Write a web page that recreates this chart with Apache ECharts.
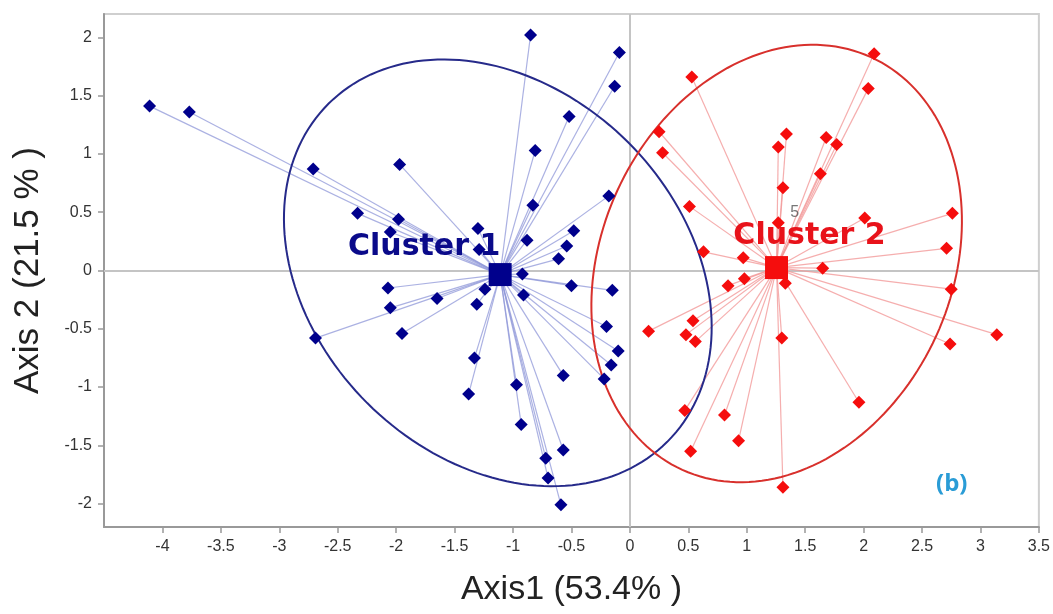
<!DOCTYPE html>
<html><head><meta charset="utf-8">
<script src="https://cdn.jsdelivr.net/npm/echarts@6/dist/echarts.min.js"></script>
<style>html,body{margin:0;padding:0;background:#fff}#c{width:1053px;height:614px}</style>
</head><body><div id="c"></div>
<script>
const xTicks = [-4,-3.5,-3,-2.5,-2,-1.5,-1,-0.5,0,0.5,1,1.5,2,2.5,3,3.5];
const yTicks = [-2,-1.5,-1,-0.5,0,0.5,1,1.5,2];
const xTitle = 'Axis1 (53.4% )';
const yTitle = 'Axis 2 (21.5 % )';
const clusterNames = ['Cluster 1','Cluster 2'];
const panelTag = '(b)';
const pointTag = '5';
const pointTagPos = [1.41, 0.50];

const cluster1Points = [
 [-4.11,1.41],[-3.77,1.36],[-2.71,0.87],[-2.33,0.49],[-2.69,-0.58],
 [-0.85,2.02],[-0.09,1.87],[-0.13,1.58],[-0.52,1.32],[-0.81,1.03],
 [-1.97,0.91],[-0.83,0.56],[-0.18,0.64],[-1.98,0.44],[-2.05,0.33],
 [-1.30,0.36],[-1.29,0.18],[-0.88,0.26],[-0.48,0.34],[-0.54,0.21],
 [-0.61,0.10],[-0.92,-0.03],[-2.07,-0.15],[-2.05,-0.32],[-1.65,-0.24],
 [-1.24,-0.16],[-1.31,-0.29],[-0.91,-0.21],[-0.50,-0.13],[-0.15,-0.17],
 [-1.95,-0.54],[-1.33,-0.75],[-1.38,-1.06],[-0.97,-0.98],[-0.93,-1.32],
 [-0.57,-0.90],[-0.20,-0.48],[-0.10,-0.69],[-0.16,-0.81],[-0.22,-0.93],
 [-0.57,-1.54],[-0.72,-1.61],[-0.70,-1.78],[-0.59,-2.01]
];
const cluster2Points = [
 [0.53,1.66],[0.25,1.19],[0.28,1.01],[1.34,1.17],[1.27,1.06],
 [1.68,1.14],[1.77,1.08],[1.63,0.83],[1.31,0.71],[0.51,0.55],
 [1.27,0.41],[0.63,0.16],[0.97,0.11],[2.09,1.86],[2.04,1.56],
 [2.01,0.45],[2.76,0.49],[2.71,0.19],[1.65,0.02],[2.75,-0.16],
 [3.14,-0.55],[2.74,-0.63],[1.96,-1.13],[0.98,-0.07],[0.84,-0.13],
 [1.33,-0.11],[0.54,-0.43],[0.16,-0.52],[0.48,-0.55],[0.56,-0.61],
 [1.30,-0.58],[0.47,-1.20],[0.81,-1.24],[0.93,-1.46],[0.52,-1.55],
 [1.31,-1.86]
];
const cluster1Centroid = [-1.11,-0.035];
const cluster2Centroid = [1.255,0.025];
// ellipse: centre x, centre y, semi-major, semi-minor, angle (deg)
const cluster1Ellipse = [-1.13,-0.02,2.05,1.58,-45];
const cluster2Ellipse = [1.256,0.06,1.945,1.50,65.5];

const BLUE='#00008c', RED='#f50d0d';

function ellipseItem(color){
  return function(params, api){
    const cx=api.value(0), cy=api.value(1), a=api.value(2), b=api.value(3), ang=api.value(4)*Math.PI/180;
    const pts=[];
    for(let i=0;i<=180;i++){
      const t=i/180*2*Math.PI, dx=a*Math.cos(t), dy=b*Math.sin(t);
      pts.push(api.coord([cx+dx*Math.cos(ang)-dy*Math.sin(ang), cy+dx*Math.sin(ang)+dy*Math.cos(ang)]));
    }
    return {type:'polyline', shape:{points:pts}, style:{stroke:color, lineWidth:2, fill:null}};
  };
}

const chart = echarts.init(document.getElementById('c'));
chart.setOption({
  animation:false,
  grid:{left:104,right:14,top:14,bottom:87,show:true,borderColor:'#cfcfcf',borderWidth:2},
  xAxis:{type:'value',min:-4.5,max:3.5,
    axisLine:{show:true,onZero:false,lineStyle:{color:'#999',width:2}},
    axisTick:{show:true,customValues:xTicks,length:6,lineStyle:{color:'#999',width:1.5}},
    axisLabel:{customValues:xTicks,fontFamily:'Liberation Sans',fontSize:16,color:'#333',margin:12},
    splitLine:{show:false},
    name:xTitle,nameLocation:'middle',nameGap:46,
    nameTextStyle:{fontFamily:'Liberation Sans',fontSize:34,color:'#222'}},
  yAxis:{type:'value',min:-2.2,max:2.2,
    axisLine:{show:true,onZero:false,lineStyle:{color:'#999',width:2}},
    axisTick:{show:true,customValues:yTicks,length:6,lineStyle:{color:'#999',width:1.5}},
    axisLabel:{customValues:yTicks,fontFamily:'Liberation Sans',fontSize:16,color:'#333',margin:12},
    splitLine:{show:false},
    name:yTitle,nameLocation:'middle',nameGap:58,
    nameTextStyle:{fontFamily:'Liberation Sans',fontSize:35,color:'#222'}},
  graphic:[{type:'text',left:936,top:472,z:100,style:{text:panelTag,font:'bold 24px "Open Sans", sans-serif',fill:'#2a9cd6'}}],
  series:[
    {type:'lines',coordinateSystem:'cartesian2d',silent:true,z:2,
     data:cluster1Points.map(p=>({coords:[p,cluster1Centroid]})),
     lineStyle:{color:'#8f97d8',width:1.2,opacity:0.75},
     markLine:{silent:true,symbol:'none',label:{show:false},lineStyle:{color:'#c4c4c4',width:2,type:'solid'},
       data:[{xAxis:0},{yAxis:0}],z:1}},
    {type:'lines',coordinateSystem:'cartesian2d',silent:true,z:2,
     data:cluster2Points.map(p=>({coords:[p,cluster2Centroid]})),
     lineStyle:{color:'#f29a9a',width:1.2,opacity:0.8}},
    {type:'custom',renderItem:ellipseItem('#262a8a'),data:[cluster1Ellipse],encode:{x:0,y:1},z:3,silent:true},
    {type:'custom',renderItem:ellipseItem('#d8302c'),data:[cluster2Ellipse],encode:{x:0,y:1},z:3,silent:true},
    {type:'scatter',data:cluster1Points,symbol:'diamond',symbolSize:13,itemStyle:{color:BLUE,opacity:1},z:5},
    {type:'scatter',data:cluster2Points,symbol:'diamond',symbolSize:13,itemStyle:{color:RED,opacity:1},z:5},
    {type:'scatter',data:[cluster1Centroid],symbol:'rect',symbolSize:23,itemStyle:{color:BLUE,opacity:1},z:6,
     label:{show:true,position:'inside',formatter:clusterNames[0],offset:[-76,-27],
       fontFamily:'DejaVu Sans',fontWeight:'bold',fontSize:30,color:'#0a0a8a',opacity:1}},
    {type:'scatter',data:[cluster2Centroid],symbol:'rect',symbolSize:23,itemStyle:{color:RED,opacity:1},z:6,
     label:{show:true,position:'inside',formatter:clusterNames[1],offset:[33,-31],
       fontFamily:'DejaVu Sans',fontWeight:'bold',fontSize:30,color:'#e8121a',opacity:1}},
    {type:'scatter',data:[pointTagPos],symbolSize:0,z:7,
     label:{show:true,position:'inside',formatter:pointTag,fontFamily:'Liberation Sans',fontSize:16,color:'#555'}}
  ]
});
</script></body></html>
